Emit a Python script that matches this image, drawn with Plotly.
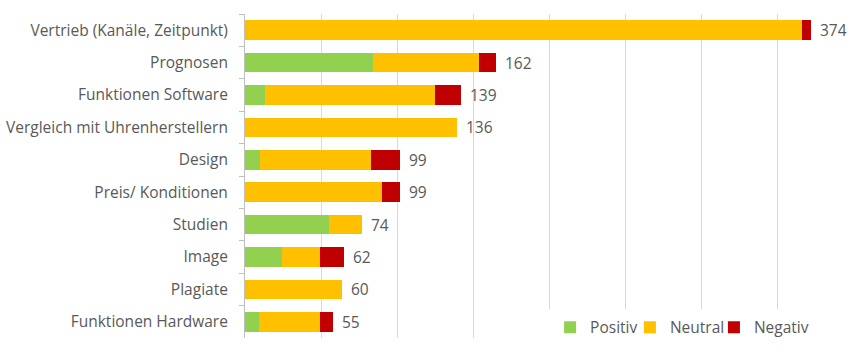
import plotly.graph_objects as go

categories = [
    "Vertrieb (Kanäle, Zeitpunkt)",
    "Prognosen",
    "Funktionen Software",
    "Vergleich mit Uhrenherstellern",
    "Design",
    "Preis/ Konditionen",
    "Studien",
    "Image",
    "Plagiate",
    "Funktionen Hardware",
]
positiv = [0, 84, 13, 0, 10, 0, 55, 24, 0, 9]
neutral = [366, 70, 112, 139, 73, 90, 22, 25, 64, 40]
negativ = [6, 11, 17, 0, 19, 12, 0, 16, 0, 9]
totals = [374, 162, 139, 136, 99, 99, 74, 62, 60, 55]
series_names = ["Positiv", "Neutral", "Negativ"]

GREEN = "#92D050"
YELLOW = "#FFC000"
RED = "#C00000"
TEXT = "#595959"
FONT = "Open Sans"
FS = 15.5

colors = [GREEN, YELLOW, RED]
# separate legends so each entry can sit where the reference puts it
legend_ids = ["legend", "legend2", "legend3"]
legend_x = {"legend": 0.501, "legend2": 0.632, "legend3": 0.770}

fig = go.Figure()
for name, vals, col, lid in zip(series_names, [positiv, neutral, negativ], colors, legend_ids):
    fig.add_trace(go.Bar(
        y=categories, x=vals, name=name, orientation="h",
        marker=dict(color=col, line=dict(width=0)),
        legend=lid,
    ))

bar_ends = [p + n + g for p, n, g in zip(positiv, neutral, negativ)]
for cat, end, tot in zip(categories, bar_ends, totals):
    fig.add_annotation(
        x=end, y=cat, text=str(tot), showarrow=False,
        xanchor="left", yanchor="middle", xshift=7,
        font=dict(family=FONT, size=FS, color=TEXT),
    )

legend_common = dict(
    orientation="h", y=0.032, xanchor="left", yanchor="middle",
    bgcolor="rgba(0,0,0,0)", font=dict(family=FONT, size=FS, color=TEXT),
    itemwidth=30,
)

# white legend box hiding the gridlines behind the legend
fig.add_shape(
    type="rect", xref="paper", yref="paper",
    x0=0.49, x1=1.0, y0=0.0, y1=0.089,
    fillcolor="white", line=dict(width=0), layer="above",
)

fig.update_layout(
    barmode="stack",
    bargap=0.4,
    width=854, height=356,
    margin=dict(l=245, r=0, t=14, b=18),
    paper_bgcolor="white",
    plot_bgcolor="white",
    font=dict(family=FONT, size=FS, color=TEXT),
    showlegend=True,
    legend=dict(x=legend_x["legend"], **legend_common),
    legend2=dict(x=legend_x["legend2"], **legend_common),
    legend3=dict(x=legend_x["legend3"], **legend_common),
    xaxis=dict(
        range=[0, 400], dtick=50, showticklabels=False,
        showgrid=True, gridcolor="#D9D9D9", gridwidth=1,
        zeroline=False, showline=False, fixedrange=True,
    ),
    yaxis=dict(
        categoryorder="array", categoryarray=categories,
        autorange="reversed",
        showline=True, linecolor="#BFBFBF", linewidth=1,
        ticks="outside", tickson="boundaries", ticklen=5, tickcolor="#BFBFBF",
        ticklabelstandoff=13,
        showgrid=False, automargin=False, fixedrange=True,
        tickfont=dict(family=FONT, size=FS, color=TEXT),
    ),
)

fig.write_html(
    "out.html",
    config={"displayModeBar": False},
    post_script="document.body.style.margin='0px';",
)
